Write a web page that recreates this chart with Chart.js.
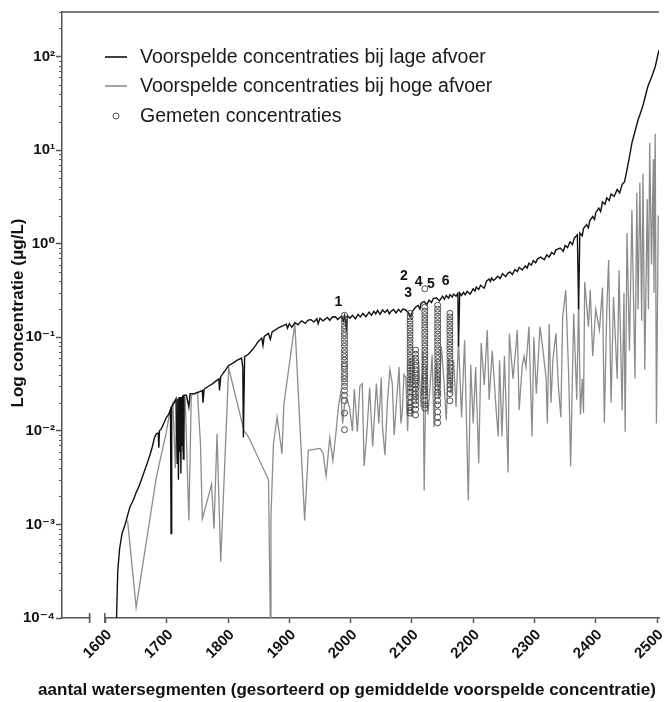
<!DOCTYPE html>
<html><head><meta charset="utf-8">
<script src="https://cdn.jsdelivr.net/npm/chart.js@4.4.1/dist/chart.umd.min.js"></script>
<style>html,body{margin:0;padding:0;background:#fff}#wrap{width:664px;height:702px;position:relative}</style>
</head><body><div id="wrap"><canvas id="c"></canvas></div>
<script>
// ---- data ----
const seriesNames = ['Voorspelde concentraties bij lage afvoer','Voorspelde concentraties bij hoge afvoer','Gemeten concentraties'];
const xTitle = 'aantal watersegmenten (gesorteerd op gemiddelde voorspelde concentratie)';
const yTitle = 'Log concentratie (\u03bcg/L)';
const xTicks = [1600,1700,1800,1900,2000,2100,2200,2300,2400,2500];
const yTicks = [1e-4,1e-3,1e-2,1e-1,1e0,1e1,1e2];
const yTickLabels = ['10\u207b\u2074','10\u207b\u00b3','10\u207b\u00b2','10\u207b\u00b9','10\u2070','10\u00b9','10\u00b2'];

const lowX = [1618,1620,1623,1627,1632,1636,1640,1645,1650,1655,
 1660,1664,1668,1672,1676,1680,1683,1686,1687,1688,
 1691,1695,1699,1703,1706,1707,1708,1712,1715,1717,
 1718,1719,1720,1721,1722,1723,1724,1725,1726,1727,
 1728,1732,1736,1738,1745,1752,1758,1759,1761,1768,
 1775,1780,1785,1786,1788,1795,1801,1808,1815,1822,
 1824,1825,1827,1833,1840,1845,1849,1855,1857,1859,
 1866,1869,1872,1878,1882,1890,1895,1897,1900,1904,
 1909,1914,1920,1926,1930,1935,1940,1945,1947,1950,
 1955,1962,1966,1970,1975,1979,1985,1988,1990,1993,
 1995,1999,2003,2008,2012,2016,2020,2025,2030,2034,
 2038,2041,2044,2048,2052,2056,2060,2063,2066,2070,
 2074,2078,2082,2085,2090,2095,2098,2101,2106,2110,
 2113,2115,2120,2124,2128,2132,2135,2140,2145,2150,
 2153,2156,2160,2162,2166,2168,2172,2175,2176,2178,
 2181,2184,2187,2190,2195,2200,2203,2205,2209,2212,
 2218,2222,2226,2228,2230,2233,2236,2240,2244,2248,
 2253,2256,2260,2264,2268,2272,2275,2280,2285,2288,
 2291,2295,2298,2302,2305,2310,2316,2320,2324,2328,
 2332,2335,2342,2347,2350,2354,2358,2362,2365,2370,
 2372,2374,2378,2380,2385,2388,2390,2395,2398,2400,
 2405,2408,2411,2415,2418,2422,2425,2430,2435,2439,
 2443,2447,2451,2455,2459,2463,2469,2473,2477,2481,
 2485,2490,2494,2497,2500,2503];
const lowY = [1.0e-4,3.2e-4,5.5e-4,8.0e-4,1.0e-3,1.25e-3,1.55e-3,1.8e-3,2.2e-3,2.6e-3,
 3.2e-3,3.8e-3,4.5e-3,5.4e-3,6.6e-3,8.5e-3,9.3e-3,0.0095,0.0066,0.0100,
 0.0105,0.012,0.0138,0.015,0.017,8.0e-4,0.018,0.020,0.022,0.0045,
 0.022,0.0030,0.023,0.0060,0.023,0.0035,0.023,0.0070,0.024,0.0050,
 0.024,0.024,0.018,0.025,0.025,0.026,0.027,0.020,0.028,0.030,
 0.032,0.034,0.036,0.027,0.038,0.044,0.050,0.053,0.057,0.060,
 0.048,0.0085,0.062,0.066,0.074,0.082,0.090,0.098,0.082,0.102,
 0.110,0.095,0.115,0.121,0.126,0.133,0.138,0.125,0.140,0.128,
 0.144,0.136,0.150,0.141,0.152,0.155,0.146,0.158,0.140,0.160,
 0.150,0.163,0.152,0.165,0.166,0.155,0.168,0.150,0.170,0.125,
 0.170,0.160,0.172,0.158,0.176,0.165,0.180,0.166,0.186,0.172,
 0.190,0.178,0.194,0.176,0.196,0.184,0.197,0.178,0.190,0.198,
 0.182,0.199,0.186,0.200,0.196,0.180,0.165,0.190,0.210,0.220,
 0.200,0.232,0.242,0.222,0.250,0.235,0.260,0.265,0.245,0.275,
 0.255,0.280,0.262,0.285,0.270,0.290,0.275,0.295,0.080,0.297,
 0.280,0.303,0.285,0.310,0.290,0.330,0.312,0.345,0.325,0.360,
 0.335,0.400,0.420,0.395,0.430,0.405,0.420,0.450,0.425,0.480,
 0.445,0.480,0.500,0.470,0.530,0.505,0.560,0.525,0.580,0.550,
 0.620,0.590,0.660,0.625,0.690,0.720,0.675,0.760,0.720,0.810,
 0.770,0.860,0.900,0.830,0.960,0.910,1.05,0.98,1.15,1.25,
 0.20,1.30,1.22,1.45,1.60,1.48,1.75,1.95,1.82,2.15,
 2.40,2.20,2.80,2.65,3.10,2.90,3.40,3.20,3.80,3.50,
 4.30,4.60,6.20,8.50,12.0,15.0,21.0,25.0,30.0,38.0,
 48.0,58.0,68.0,78.0,95.0,117.0];

const highX = [1636,1650,1683,1699,1705,1710,1714,1716,1719,1722,
 1726,1730,1736,1740,1746,1750,1755,1758,1766,1773,
 1777,1782,1788,1801,1826,1833,1866,1869,1870,1874,
 1880,1888,1891,1909,1925,1931,1950,1955,1960,1966,
 1971,1976,1980,1984,1987,1990,1994,1998,2003,2006,
 2011,2015,2019,2022,2026,2031,2036,2042,2046,2050,
 2052,2056,2060,2064,2068,2071,2074,2079,2082,2084,
 2087,2090,2093,2097,2100,2103,2107,2111,2115,2118,
 2120,2123,2126,2129,2133,2136,2140,2144,2148,2152,
 2156,2160,2164,2168,2172,2176,2181,2186,2192,2196,
 2200,2204,2209,2213,2218,2223,2226,2231,2234,2238,
 2241,2243,2247,2251,2257,2259,2265,2269,2272,2275,
 2280,2283,2286,2291,2296,2299,2303,2306,2309,2314,
 2319,2321,2324,2327,2330,2335,2339,2343,2346,2351,
 2356,2359,2364,2369,2372,2375,2378,2380,2382,2388,
 2391,2395,2400,2406,2411,2414,2418,2421,2425,2429,
 2435,2438,2443,2446,2448,2451,2455,2459,2464,2467,
 2469,2472,2475,2477,2480,2484,2486,2488,2491,2494,
 2495,2497,2499,2502];
const highY = [1.1e-3,1.3e-4,3.2e-3,0.0095,0.016,0.020,0.004,0.022,0.005,0.022,
 0.006,0.023,1.1e-3,0.024,0.025,0.026,0.0072,1.15e-3,0.0018,0.0027,
 9e-4,0.0093,4e-4,0.047,0.0100,0.0087,0.0030,8e-5,1.2e-3,0.0072,
 0.014,0.0057,0.019,0.14,1.1e-3,0.0062,0.0065,0.0058,0.0033,0.0085,
 0.0048,0.0095,0.018,0.026,0.012,0.019,0.022,0.018,0.010,0.028,
 0.0098,0.030,0.032,0.0042,0.0086,0.029,0.0068,0.032,0.012,0.037,
 0.011,0.0055,0.020,0.045,0.032,0.009,0.017,0.048,0.012,0.015,
 0.040,0.037,0.010,0.060,0.014,0.063,0.020,0.057,0.018,0.070,
 0.0023,0.050,0.015,0.026,0.065,0.011,0.057,0.022,0.080,0.037,
 0.013,0.060,0.025,0.057,0.018,0.095,0.014,0.093,0.0018,0.051,
 0.012,0.048,0.0045,0.087,0.031,0.12,0.0215,0.072,0.037,0.015,
 0.0087,0.057,0.0087,0.063,0.0036,0.11,0.036,0.070,0.12,0.0167,
 0.050,0.063,0.048,0.13,0.0087,0.10,0.025,0.057,0.13,0.072,
 0.036,0.012,0.14,0.020,0.057,0.11,0.030,0.014,0.165,0.32,
 0.036,0.0042,0.18,0.0215,0.25,0.015,0.036,0.0155,0.39,0.13,
 0.32,0.063,0.20,0.12,0.34,0.0122,0.20,0.67,0.020,0.27,
 0.036,0.52,0.0167,0.30,0.0098,1.3,0.072,2.3,0.036,3.5,
 0.20,4.5,0.15,5.6,0.045,3.0,0.20,12,0.60,8.0,
 0.30,15,0.012,2.0];

const measColX = [1990, 2097, 2106, 2121, 2142, 2162];
const measCol1 = [0.172,0.158,0.146,0.133,0.123,0.112,0.104,0.095,0.087,0.080,0.073,0.067,0.062,0.057,0.052,0.049,0.046,0.042,0.039,0.036,0.033,0.030,0.027,0.024,0.021,0.0155,0.0103];
const measCol2 = [0.180,0.165,0.150,0.138,0.126,0.116,0.106,0.098,0.090,0.083,0.076,0.070,0.064,0.059,0.054,0.050,0.047,0.044,0.041,0.038,0.035,0.032,0.029,0.026,0.023,0.020,0.018,0.0165,0.0155];
const measCol3 = [0.073,0.066,0.060,0.055,0.050,0.045,0.041,0.037,0.034,0.031,0.028,0.025,0.023,0.021,0.019,0.017,0.0148];
const measCol4 = [0.33,0.21,0.19,0.175,0.16,0.147,0.135,0.124,0.113,0.104,0.095,0.087,0.080,0.073,0.067,0.062,0.057,0.052,0.048,0.044,0.040,0.037,0.034,0.031,0.028,0.026,0.024,0.021,0.019,0.0175];
const measCol5 = [0.22,0.20,0.184,0.168,0.154,0.141,0.129,0.118,0.108,0.099,0.091,0.083,0.076,0.070,0.064,0.059,0.054,0.049,0.045,0.041,0.038,0.035,0.032,0.029,0.026,0.024,0.021,0.019,0.016,0.014,0.0122];
const measCol6 = [0.18,0.165,0.151,0.138,0.127,0.116,0.106,0.097,0.089,0.082,0.075,0.069,0.063,0.058,0.053,0.048,0.044,0.040,0.037,0.034,0.031,0.028,0.025,0.021];
const measCols = [measCol1, measCol2, measCol3, measCol4, measCol5, measCol6];

const siteLabels = ['1','2','3','4','5','6'];
const siteLabelX = [1980, 2087, 2094, 2111, 2131, 2155];
const siteLabelY = [0.24, 0.455, 0.30, 0.39, 0.37, 0.40];

// ---- chart ----
const FONT = "'Liberation Sans', Arial, 'DejaVu Sans', sans-serif";
const AX = '#555';
const lowData = lowX.map((x, i) => ({x, y: lowY[i]}));
const highData = highX.map((x, i) => ({x, y: highY[i]}));
const measData = [];
measCols.forEach((col, c) => col.forEach(v => measData.push({x: measColX[c], y: v})));

const decor = {
  id: 'decor',
  afterDraw(chart) {
    const ctx = chart.ctx, ca = chart.chartArea;
    const xs = chart.scales.x, ys = chart.scales.y;
    ctx.save();
    ctx.strokeStyle = AX; ctx.lineWidth = 1.5;
    ctx.beginPath(); ctx.moveTo(ca.left, ca.top); ctx.lineTo(ca.right, ca.top); ctx.stroke();
    ctx.lineWidth = 1;
    for (let d = -4; d <= 2; d++) {
      for (let m = 2; m <= 9; m++) {
        const v = m * Math.pow(10, d);
        if (v > ys.max) continue;
        const py = Math.round(ys.getPixelForValue(v)) + 0.5;
        ctx.beginPath(); ctx.moveTo(ca.left - 3, py); ctx.lineTo(ca.left, py); ctx.stroke();
      }
    }
    const b1 = xs.getPixelForValue(1574), b2 = xs.getPixelForValue(1599);
    ctx.fillStyle = '#fff';
    ctx.fillRect(b1 + 1, ca.bottom - 2, b2 - b1 - 2, 4);
    ctx.strokeStyle = AX; ctx.lineWidth = 1.5;
    [b1, b2].forEach(bx => { ctx.beginPath(); ctx.moveTo(bx, ca.bottom - 5); ctx.lineTo(bx, ca.bottom + 5); ctx.stroke(); });
    ctx.fillStyle = '#111'; ctx.font = 'bold 14px ' + FONT;
    ctx.textAlign = 'center'; ctx.textBaseline = 'middle';
    siteLabels.forEach((t, i) => ctx.fillText(t, xs.getPixelForValue(siteLabelX[i]), ys.getPixelForValue(siteLabelY[i])));
    const ds = chart.data.datasets;
    const rows = [57, 86, 116];
    ctx.font = '19.5px ' + FONT; ctx.textAlign = 'left';
    rows.forEach((ry, i) => {
      const d = ds[i];
      ctx.strokeStyle = d.borderColor;
      if (i < 2) {
        ctx.lineWidth = 1.6;
        ctx.beginPath(); ctx.moveTo(105, ry); ctx.lineTo(127, ry); ctx.stroke();
      } else {
        ctx.lineWidth = 1;
        ctx.beginPath(); ctx.arc(116, ry, 3, 0, Math.PI * 2); ctx.stroke();
      }
      ctx.fillStyle = '#1a1a1a';
      ctx.fillText(d.label, 140, ry + 1);
    });
    ctx.font = 'bold 17px ' + FONT; ctx.fillStyle = '#111'; ctx.textAlign = 'center';
    ctx.fillText(xTitle, 347, 690);
    ctx.translate(18, 313); ctx.rotate(-Math.PI / 2);
    ctx.fillText(yTitle, 0, 0);
    ctx.restore();
  }
};

new Chart(document.getElementById('c'), {
  type: 'line',
  data: {
    datasets: [
      {label: seriesNames[0], data: lowData, borderColor: '#111', borderWidth: 1.4, pointRadius: 0, tension: 0, order: 1},
      {label: seriesNames[1], data: highData, borderColor: '#8c8c8c', borderWidth: 1.3, pointRadius: 0, tension: 0, order: 2},
      {label: seriesNames[2], data: measData, showLine: false, pointRadius: 3, pointStyle: 'circle', borderColor: '#4a4a4a', backgroundColor: 'rgba(255,255,255,0)', pointBorderWidth: 1, order: 0}
    ]
  },
  options: {
    responsive: true, maintainAspectRatio: false, animation: false, devicePixelRatio: 1,
    layout: {padding: {top: 12, left: 0, right: 0, bottom: 0}},
    plugins: {legend: {display: false}, tooltip: {enabled: false}},
    scales: {
      x: {
        type: 'linear', min: 1529, max: 2503.2,
        afterBuildTicks: s => { s.ticks = xTicks.map(v => ({value: v})); },
        afterFit: s => { s.height = 84; s.paddingLeft = 0; s.paddingRight = 0; s.paddingTop = 0; s.paddingBottom = 0; },
        ticks: {minRotation: 45, maxRotation: 45, padding: 3, labelOffset: 4, color: '#111', font: {family: FONT, size: 15, weight: 'bold'}, callback: v => String(v), autoSkip: false},
        grid: {display: true, drawOnChartArea: false, drawTicks: true, tickLength: 5, color: AX, tickColor: AX, tickWidth: 1.5},
        border: {display: true, color: AX, width: 1.5}
      },
      y: {
        type: 'logarithmic', min: 1e-4, max: 300,
        afterBuildTicks: s => { s.ticks = yTicks.map(v => ({value: v})); },
        afterFit: s => { s.width = 62; s.paddingLeft = 0; s.paddingRight = 0; s.paddingTop = 0; s.paddingBottom = 0; },
        ticks: {padding: 1, color: '#111', font: {family: FONT, size: 15, weight: 'bold'},
          callback: v => { const i = yTicks.findIndex(t => Math.abs(Math.log10(t) - Math.log10(v)) < 1e-6); return i >= 0 ? yTickLabels[i] : ''; }},
        grid: {display: true, drawOnChartArea: false, drawTicks: true, tickLength: 6, color: AX, tickColor: AX, tickWidth: 1.5},
        border: {display: true, color: AX, width: 1.5}
      }
    }
  },
  plugins: [decor]
});
</script></body></html>
